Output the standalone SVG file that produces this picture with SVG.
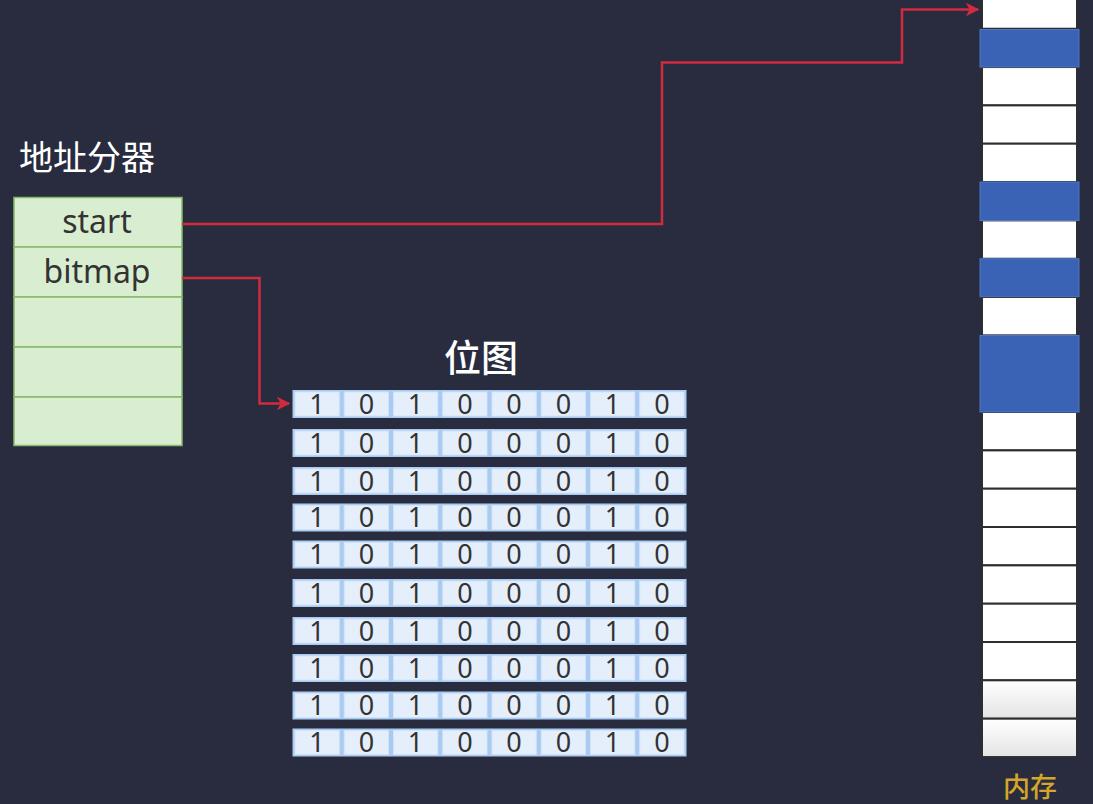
<svg xmlns="http://www.w3.org/2000/svg" width="1093" height="804" viewBox="0 0 1093 804">
<style>
.title{font-family:"Noto Sans CJK SC","Noto Sans",sans-serif;fill:#ffffff;}
.lbl{font-family:"Noto Sans","Open Sans",sans-serif;font-size:32px;fill:#333333;text-anchor:middle;}
.bit{font-family:"Noto Sans","Open Sans",sans-serif;font-size:27px;fill:#333333;text-anchor:middle;}
.alloc{fill:#d9edd0;stroke:#86b96a;stroke-width:1.5;}
.mw{fill:#ffffff;stroke:#2e2e2e;stroke-width:2;}
.mb{fill:#3b63b5;stroke:#4f76c4;stroke-width:1;}
.cell{fill:#e5effc;stroke:#d3e3f7;stroke-width:1;}
.wire{fill:none;stroke:#d42a40;stroke-width:2.5;}
</style>
<defs>
<marker id="arr" viewBox="0 0 10 10" refX="9" refY="5" markerWidth="5.5" markerHeight="5.5" orient="auto" markerUnits="strokeWidth">
<path d="M0,0 L10,5 L0,10 L3,5 Z" fill="#d42a40"/>
</marker>
<linearGradient id="gfade" x1="0" y1="0" x2="0" y2="1">
<stop offset="0" stop-color="#ffffff"/>
<stop offset="1" stop-color="#e4e4e4"/>
</linearGradient>
<g id="rowbg">
<rect x="292.5" y="0" width="394" height="28" fill="#a9cbf1"/>
<rect class="cell" x="295" y="2" width="44.25" height="24"/>
<rect class="cell" x="344.25" y="2" width="44.25" height="24"/>
<rect class="cell" x="393.5" y="2" width="44.25" height="24"/>
<rect class="cell" x="442.75" y="2" width="44.25" height="24"/>
<rect class="cell" x="492" y="2" width="44.25" height="24"/>
<rect class="cell" x="541.25" y="2" width="44.25" height="24"/>
<rect class="cell" x="590.5" y="2" width="44.25" height="24"/>
<rect class="cell" x="639.75" y="2" width="44.25" height="24"/>
</g>
</defs>
<rect x="0" y="0" width="1093" height="804" fill="#282c3e"/>

<g id="allocator">
<text class="title" x="19" y="170" font-size="34" font-weight="400">地址分器</text>
<rect class="alloc" x="14" y="197.5" width="168" height="49.5"/>
<rect class="alloc" x="14" y="247" width="168" height="50"/>
<rect class="alloc" x="14" y="297" width="168" height="50"/>
<rect class="alloc" x="14" y="347" width="168" height="50"/>
<rect class="alloc" x="14" y="397" width="168" height="48.5"/>
<text class="lbl" x="97" y="233">start</text>
<text class="lbl" x="97" y="283">bitmap</text>
</g>

<g id="bitmap">
<text class="title" x="481" y="372" font-size="37" font-weight="500" text-anchor="middle">位图</text>
<g id="row1" transform="translate(0,390)"><use href="#rowbg"/>
<text class="bit" x="317.1" y="23.5">1</text><text class="bit" x="366.4" y="23.5">0</text><text class="bit" x="415.6" y="23.5">1</text><text class="bit" x="464.9" y="23.5">0</text><text class="bit" x="514.1" y="23.5">0</text><text class="bit" x="563.4" y="23.5">0</text><text class="bit" x="612.6" y="23.5">1</text><text class="bit" x="661.9" y="23.5">0</text></g>
<g id="row2" transform="translate(0,429)"><use href="#rowbg"/>
<text class="bit" x="317.1" y="23.5">1</text><text class="bit" x="366.4" y="23.5">0</text><text class="bit" x="415.6" y="23.5">1</text><text class="bit" x="464.9" y="23.5">0</text><text class="bit" x="514.1" y="23.5">0</text><text class="bit" x="563.4" y="23.5">0</text><text class="bit" x="612.6" y="23.5">1</text><text class="bit" x="661.9" y="23.5">0</text></g>
<g id="row3" transform="translate(0,467)"><use href="#rowbg"/>
<text class="bit" x="317.1" y="23.5">1</text><text class="bit" x="366.4" y="23.5">0</text><text class="bit" x="415.6" y="23.5">1</text><text class="bit" x="464.9" y="23.5">0</text><text class="bit" x="514.1" y="23.5">0</text><text class="bit" x="563.4" y="23.5">0</text><text class="bit" x="612.6" y="23.5">1</text><text class="bit" x="661.9" y="23.5">0</text></g>
<g id="row4" transform="translate(0,503.5)"><use href="#rowbg"/>
<text class="bit" x="317.1" y="23.5">1</text><text class="bit" x="366.4" y="23.5">0</text><text class="bit" x="415.6" y="23.5">1</text><text class="bit" x="464.9" y="23.5">0</text><text class="bit" x="514.1" y="23.5">0</text><text class="bit" x="563.4" y="23.5">0</text><text class="bit" x="612.6" y="23.5">1</text><text class="bit" x="661.9" y="23.5">0</text></g>
<g id="row5" transform="translate(0,540.5)"><use href="#rowbg"/>
<text class="bit" x="317.1" y="23.5">1</text><text class="bit" x="366.4" y="23.5">0</text><text class="bit" x="415.6" y="23.5">1</text><text class="bit" x="464.9" y="23.5">0</text><text class="bit" x="514.1" y="23.5">0</text><text class="bit" x="563.4" y="23.5">0</text><text class="bit" x="612.6" y="23.5">1</text><text class="bit" x="661.9" y="23.5">0</text></g>
<g id="row6" transform="translate(0,579)"><use href="#rowbg"/>
<text class="bit" x="317.1" y="23.5">1</text><text class="bit" x="366.4" y="23.5">0</text><text class="bit" x="415.6" y="23.5">1</text><text class="bit" x="464.9" y="23.5">0</text><text class="bit" x="514.1" y="23.5">0</text><text class="bit" x="563.4" y="23.5">0</text><text class="bit" x="612.6" y="23.5">1</text><text class="bit" x="661.9" y="23.5">0</text></g>
<g id="row7" transform="translate(0,617)"><use href="#rowbg"/>
<text class="bit" x="317.1" y="23.5">1</text><text class="bit" x="366.4" y="23.5">0</text><text class="bit" x="415.6" y="23.5">1</text><text class="bit" x="464.9" y="23.5">0</text><text class="bit" x="514.1" y="23.5">0</text><text class="bit" x="563.4" y="23.5">0</text><text class="bit" x="612.6" y="23.5">1</text><text class="bit" x="661.9" y="23.5">0</text></g>
<g id="row8" transform="translate(0,654)"><use href="#rowbg"/>
<text class="bit" x="317.1" y="23.5">1</text><text class="bit" x="366.4" y="23.5">0</text><text class="bit" x="415.6" y="23.5">1</text><text class="bit" x="464.9" y="23.5">0</text><text class="bit" x="514.1" y="23.5">0</text><text class="bit" x="563.4" y="23.5">0</text><text class="bit" x="612.6" y="23.5">1</text><text class="bit" x="661.9" y="23.5">0</text></g>
<g id="row9" transform="translate(0,691.5)"><use href="#rowbg"/>
<text class="bit" x="317.1" y="23.5">1</text><text class="bit" x="366.4" y="23.5">0</text><text class="bit" x="415.6" y="23.5">1</text><text class="bit" x="464.9" y="23.5">0</text><text class="bit" x="514.1" y="23.5">0</text><text class="bit" x="563.4" y="23.5">0</text><text class="bit" x="612.6" y="23.5">1</text><text class="bit" x="661.9" y="23.5">0</text></g>
<g id="row10" transform="translate(0,728.5)"><use href="#rowbg"/>
<text class="bit" x="317.1" y="23.5">1</text><text class="bit" x="366.4" y="23.5">0</text><text class="bit" x="415.6" y="23.5">1</text><text class="bit" x="464.9" y="23.5">0</text><text class="bit" x="514.1" y="23.5">0</text><text class="bit" x="563.4" y="23.5">0</text><text class="bit" x="612.6" y="23.5">1</text><text class="bit" x="661.9" y="23.5">0</text></g>
</g>

<g id="memory">
<rect class="mw" x="982" y="-9.6" width="95" height="38.33"/>
<rect class="mw" x="982" y="67.06" width="95" height="38.33"/>
<rect class="mw" x="982" y="105.4" width="95" height="38.33"/>
<rect class="mw" x="982" y="143.7" width="95" height="38.33"/>
<rect class="mw" x="982" y="220.4" width="95" height="38.33"/>
<rect class="mw" x="982" y="297.0" width="95" height="38.33"/>
<rect class="mw" x="982" y="412.0" width="95" height="38.33"/>
<rect class="mw" x="982" y="450.4" width="95" height="38.33"/>
<rect class="mw" x="982" y="488.7" width="95" height="38.33"/>
<rect class="mw" x="982" y="527.0" width="95" height="38.33"/>
<rect class="mw" x="982" y="565.4" width="95" height="38.33"/>
<rect class="mw" x="982" y="603.7" width="95" height="38.33"/>
<rect class="mw" x="982" y="642.0" width="95" height="38.33"/>
<rect class="mw" x="982" y="680.3" width="95" height="38.33" style="fill:url(#gfade)"/>
<rect class="mw" x="982" y="718.7" width="95" height="38.33" style="fill:url(#gfade)"/>
<rect class="mb" x="980" y="29.5" width="99" height="37.5"/>
<rect class="mb" x="980" y="182" width="99" height="38.5"/>
<rect class="mb" x="980" y="258.7" width="99" height="38"/>
<rect class="mb" x="980" y="335.5" width="99" height="76.5"/>
<text x="1030" y="797" font-family="Noto Sans CJK SC, Noto Sans, sans-serif" font-size="27" font-weight="500" fill="#d4a62a" text-anchor="middle">内存</text>
</g>

<g id="connectors">
<path class="wire" d="M182,224 H662 V62.5 H902 V9.5 H978" marker-end="url(#arr)"/>
<path class="wire" d="M182,278 H259.5 V403.5 H289" marker-end="url(#arr)"/>
</g>
</svg>
